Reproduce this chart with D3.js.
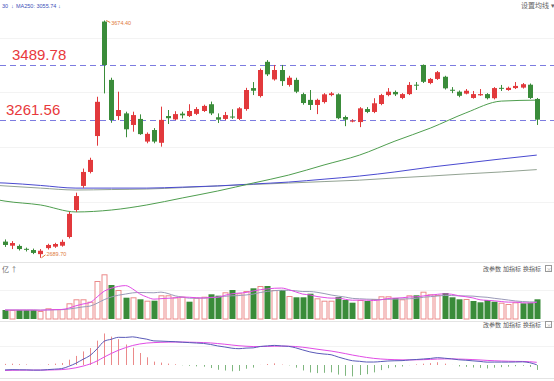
<!DOCTYPE html>
<html>
<head>
<meta charset="utf-8">
<script src="https://cdn.jsdelivr.net/npm/d3@7"></script>
<style>
  body { margin: 0; background: #fff; }
  svg { display: block; font-family: "Liberation Sans", Arial, "Noto Sans CJK SC", sans-serif; }
</style>
</head>
<body>
<div id="chart"></div>
<script>
const width = 554;
const height = 381;

// daily candles
const opens  = [2757,2740,2739,2727,2722,2705,2730,2736,2740,2776,2888,2988,3046,3195,3670,3428,3278,3289,3241,3266,3172,3220,3167,3278,3264,3288,3278,3287,3299,3327,3273,3266,3276,3266,3307,3394,3361,3503,3430,3469,3407,3428,3369,3345,3324,3336,3365,3368,3274,3256,3253,3307,3295,3328,3365,3378,3353,3369,3408,3490,3415,3432,3441,3387,3379,3371,3353,3364,3369,3352,3395,3386,3394,3396,3408,3349];
const highs  = [2766,2759,2745,2732,2728,2726,2748,2752,2765,2880,2960,3060,3105,3358,3674.40,3437,3379,3296,3296,3285,3210,3228,3317,3303,3298,3296,3327,3315,3325,3338,3289,3295,3306,3315,3395,3419,3475,3510,3490,3490,3445,3437,3375,3386,3350,3373,3378,3372,3280,3265,3315,3315,3352,3370,3394,3384,3373,3419,3419,3492,3436,3465,3445,3398,3384,3390,3382,3390,3373,3398,3407,3400,3419,3415,3413,3353];
const lows   = [2735,2726,2720,2716,2705,2689.70,2724,2731,2736,2770,2880,2980,3040,3155,3372,3250,3261,3190,3213,3200,3165,3165,3151,3245,3261,3268,3274,3282,3295,3282,3249,3261,3266,3261,3300,3365,3355,3444,3425,3403,3400,3373,3325,3303,3286,3330,3360,3265,3236,3252,3232,3290,3290,3323,3360,3361,3348,3365,3386,3415,3410,3428,3388,3373,3356,3368,3350,3362,3347,3347,3382,3383,3390,3392,3349,3241];
const closes = [2743,2751,2726,2725,2710,2719,2743,2747,2756,2872,2946,3046,3096,3337,3489.78,3261.56,3303,3223,3282,3203,3204,3172,3262,3269,3286,3281,3299,3307,3320,3289,3263,3282,3273,3310,3386,3383,3469,3451,3469,3423,3437,3379,3332,3324,3345,3368,3372,3269,3263,3259,3310,3295,3331,3365,3379,3368,3369,3407,3406,3420,3432,3460,3393,3385,3362,3383,3369,3369,3352,3394,3393,3395,3403,3410,3353,3263];

// turnover (亿) and bar colour (1 = up / red, 0 = down / green)
const volumes = [1800,1800,1800,1800,1800,1600,2140,2000,2000,3140,3940,3940,3460,7600,8940,6800,5800,4260,4340,3940,3660,3660,4740,4740,4340,4460,3460,4260,4460,4940,4660,5340,5800,5140,5600,6140,6600,6600,5800,5800,4600,4340,4340,5060,4140,3660,3660,4400,3800,3260,3800,3600,4000,4540,4540,4200,3940,4740,4740,5460,4940,4800,5200,4340,3940,4000,3600,3340,3800,3460,3260,3000,3340,3140,3260,3940];
const volUp   = [0,1,0,0,0,1,1,1,1,1,1,1,1,1,1,0,1,0,1,0,1,0,1,1,1,1,0,1,1,0,0,1,0,1,1,0,1,0,1,0,1,0,0,0,1,1,1,0,0,0,1,0,1,1,1,0,1,1,0,1,1,1,0,0,0,1,0,0,0,0,1,1,1,0,0,0];

// moving average lines, sampled every 5 sessions
const maIdx   = [-1,0,5,10,15,20,25,30,35,40,45,50,55,60,65,70,75];
const maShort = [2930,2925,2909,2880,2888,2909,2938,2967,3000,3033,3075,3116,3174,3228,3291,3340,3344];
const maMid   = [3001,3000,2990,2979,2979,2979,2983,2988,2996,3004,3016,3029,3046,3066,3083,3100,3116];
const maLong  = [2990,2988,2979,2971,2973,2975,2981,2988,2994,3000,3006,3012,3021,3029,3038,3046,3055.74];

// EMA states at the left edge (fast, slow, signal)
const macdInit = [2760, 2785, -28];

const levels = [3489.78, 3261.56];

const red = "#e2393c";
const green = "#3a8c3a";

const svg = d3.select("#chart").append("svg")
  .attr("width", width).attr("height", height);

const n = closes.length;
const x = d3.scaleLinear().domain([0, n - 1]).range([5, 536.75]);
const y = d3.scaleLinear().domain([levels[1], levels[0]]).range([120, 65]);
const yVol = d3.scaleLinear().domain([0, 11200]).range([319, 263]);
const yMacd = d3.scaleLinear().domain([0, 100]).range([365, 345]);

// panel frames / grid
const grid = [38, 92, 147, 202, 290, 346];
svg.append("g").selectAll("line").data(grid).join("line")
  .attr("x1", 0).attr("x2", width).attr("y1", d => d + 0.5).attr("y2", d => d + 0.5)
  .attr("stroke", "#f3f3f3");
svg.append("g").selectAll("line").data([262, 321, 378]).join("line")
  .attr("x1", 0).attr("x2", width).attr("y1", d => d + 0.5).attr("y2", d => d + 0.5)
  .attr("stroke", "#e4e4e4");

// level lines
svg.append("g").selectAll("line").data(levels).join("line")
  .attr("x1", 0).attr("x2", width)
  .attr("y1", d => Math.round(y(d)) + 0.5).attr("y2", d => Math.round(y(d)) + 0.5)
  .attr("stroke", "#7c7ce0").attr("stroke-dasharray", "6,4");
svg.append("g").selectAll("text").data(levels).join("text")
  .attr("x", (d, i) => i === 0 ? 12 : 6)
  .attr("y", d => y(d) - 5)
  .attr("fill", "#e8393c").attr("font-size", 15)
  .text(d => d.toFixed(2));

// moving averages
const maLine = d3.line().x(d => x(d[0])).y(d => y(d[1])).curve(d3.curveMonotoneX);
[[maLong, "#93a393"], [maMid, "#4a4ad0"], [maShort, "#4f9e4f"]].forEach(([vals, c]) => {
  svg.append("path").datum(maIdx.map((k, i) => [k, vals[i]]))
    .attr("fill", "none").attr("stroke", c).attr("stroke-width", 1).attr("d", maLine);
});

// candles
const candles = svg.append("g").selectAll("g").data(d3.range(n)).join("g");
candles.append("line")
  .attr("x1", i => Math.round(x(i)) + 0.5).attr("x2", i => Math.round(x(i)) + 0.5)
  .attr("y1", i => y(highs[i])).attr("y2", i => y(lows[i]))
  .attr("stroke", i => closes[i] >= opens[i] ? red : green);
candles.append("rect")
  .attr("x", i => Math.round(x(i)) - 2)
  .attr("width", 5)
  .attr("y", i => y(Math.max(opens[i], closes[i])))
  .attr("height", i => Math.max(1, Math.abs(y(opens[i]) - y(closes[i]))))
  .attr("fill", i => closes[i] >= opens[i] ? red : green);

// high / low marks
const hi = d3.maxIndex(highs), lo = d3.minIndex(lows);
const mark = svg.append("g").attr("fill", "#e07a3c").attr("font-size", 5.5);
mark.append("path").attr("d", `M${x(hi) + 2},${y(highs[hi])} L${x(hi) + 6},${y(highs[hi]) + 2}`)
  .attr("stroke", "#e07a3c").attr("fill", "none");
mark.append("text").attr("x", x(hi) + 7).attr("y", y(highs[hi]) + 4.5).text(highs[hi].toFixed(2));
mark.append("path").attr("d", `M${x(lo) + 1},${y(lows[lo])} L${x(lo) + 5},${y(lows[lo]) - 3}`)
  .attr("stroke", "#e07a3c").attr("fill", "none");
mark.append("text").attr("x", x(lo) + 6).attr("y", y(lows[lo]) - 2).text(lows[lo].toFixed(2));

// header texts
const head = svg.append("g").attr("font-size", 5.5).attr("fill", "#4050b8");
head.append("text").attr("x", 2).attr("y", 8).text("30");
head.append("text").attr("x", 11).attr("y", 8).text("↓");
head.append("text").attr("x", 16).attr("y", 8).text("MA250: 3055.74");
head.append("text").attr("x", 58).attr("y", 8).text("↓");
svg.append("text").attr("x", 521).attr("y", 8).attr("font-size", 7).attr("fill", "#666")
  .attr("font-family", "Noto Sans CJK SC").text("设置均线 ▾");

// volume panel
svg.append("text").attr("x", 2).attr("y", 272).attr("font-size", 7).attr("fill", "#666")
  .attr("font-family", "Noto Sans CJK SC").text("亿 ↑");
svg.append("g").selectAll("rect").data(d3.range(n)).join("rect")
  .attr("x", i => Math.round(x(i)) - 2.5 + (volUp[i] ? 0.5 : 0))
  .attr("width", i => volUp[i] ? 5 : 6)
  .attr("y", i => yVol(volumes[i]) + (volUp[i] ? 0.5 : 0))
  .attr("height", i => yVol(0) - yVol(volumes[i]) - (volUp[i] ? 0.5 : 0))
  .attr("fill", i => volUp[i] ? "#fff" : green)
  .attr("stroke", i => volUp[i] ? "#eb8a8a" : "none");

const volMa = k => volumes.map((v, i) => d3.mean(volumes.slice(Math.max(0, i - k + 1), i + 1)));
const volLine = d3.line().x((d, i) => x(i)).y(d => yVol(d)).curve(d3.curveMonotoneX);
svg.append("path").datum(volMa(10)).attr("fill", "none").attr("stroke", "#9a9ab8").attr("d", volLine);
svg.append("path").datum(volMa(5)).attr("fill", "none").attr("stroke", "#e14ce6").attr("d", volLine);

// MACD panel (12, 26, 9)
let e12 = macdInit[0], e26 = macdInit[1], dea = macdInit[2];
const macd = closes.map(c => {
  e12 += 2 / 13 * (c - e12);
  e26 += 2 / 27 * (c - e26);
  const dif = e12 - e26;
  dea += 2 / 10 * (dif - dea);
  return { dif, dea, hist: 2 * (dif - dea) };
});
svg.append("g").selectAll("line").data(macd).join("line")
  .attr("x1", (d, i) => Math.round(x(i)) + 0.5).attr("x2", (d, i) => Math.round(x(i)) + 0.5)
  .attr("y1", yMacd(0)).attr("y2", d => yMacd(d.hist))
  .attr("stroke", d => d.hist >= 0 ? "#eb8a8a" : "#7fb77f");
const mLine = key => d3.line().x((d, i) => x(i)).y(d => yMacd(d[key])).curve(d3.curveMonotoneX);
svg.append("path").datum(macd).attr("fill", "none").attr("stroke", "#e14ce6").attr("d", mLine("dea"));
svg.append("path").datum(macd).attr("fill", "none").attr("stroke", "#5a5ab8").attr("d", mLine("dif"));

// panel tools
const tools = ["改参数", "加指标", "换指标"];
[271, 327].forEach(ty => {
  const g = svg.append("g").attr("font-family", "Noto Sans CJK SC").attr("font-size", 6).attr("fill", "#555");
  g.selectAll("text").data(tools).join("text")
    .attr("x", (d, i) => 483 + i * 20).attr("y", ty).text(d => d);
  g.append("rect").attr("x", 545.5).attr("y", ty - 5.5).attr("width", 6).attr("height", 6)
    .attr("fill", "none").attr("stroke", "#999");
  g.append("text").attr("x", 546.5).attr("y", ty).attr("font-size", 5).attr("fill", "#999").text("×");
});
</script>
</body>
</html>
